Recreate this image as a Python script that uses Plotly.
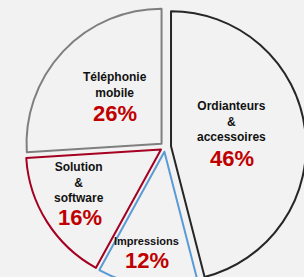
import plotly.graph_objects as go

# ---- data ----
categories = ["Ordianteurs<br>&<br>accessoires", "Impressions", "Solution<br>&<br>software", "Téléphonie<br>mobile"]
values = [46, 12, 16, 26]
pct_labels = ["46%", "12%", "16%", "26%"]

# ---- styles ----
line_colors = ["#262626", "#5b9bd5", "#a50021", "#7f7f7f"]
pulls = [0.045, 0.035, 0.035, 0.035]
label_sizes = [12, 11, 12, 12]
BG = "#f2f2f2"
W, H = 310, 292

# pie box in pixels (left, top, right, bottom)
BOX = (23.9, 5.9, 306.1, 288.1)

# label positions in pixels (centre of label block, centre of percentage)
label_px = [(231.7, 121.5), (146.7, 240.5), (79, 182), (115.3, 84.5)]
pct_px = [(231.7, 158), (146.7, 260), (79.5, 217), (115.3, 113.5)]

fig = go.Figure(go.Pie(
    labels=categories,
    values=values,
    sort=False,
    direction="clockwise",
    rotation=0,
    pull=pulls,
    textinfo="none",
    hoverinfo="label+value",
    marker=dict(colors=[BG] * 4, line=dict(color=line_colors, width=2)),
    domain=dict(x=[BOX[0] / W, BOX[2] / W], y=[1 - BOX[3] / H, 1 - BOX[1] / H]),
    showlegend=False,
))

def px2paper(x, y):
    return x / W, 1 - y / H

for cat, (lx, ly), pct, (qx, qy), fs in zip(categories, label_px, pct_labels, pct_px, label_sizes):
    ax, ay = px2paper(lx, ly)
    fig.add_annotation(x=ax, y=ay, xref="paper", yref="paper",
                       text="<b>" + cat.replace("<br>", "</b><br><b>") + "</b>",
                       showarrow=False, xanchor="center", yanchor="middle",
                       font=dict(family="Liberation Sans Narrow, Liberation Sans, Arial", size=fs, color="#111111"))
    bx, by = px2paper(qx, qy)
    fig.add_annotation(x=bx, y=by, xref="paper", yref="paper", text="<b>" + pct + "</b>",
                       showarrow=False, xanchor="center", yanchor="middle",
                       font=dict(family="Liberation Sans, Arial", size=22, color="#c00000"))

fig.update_layout(
    width=W, height=H,
    margin=dict(l=0, r=0, t=0, b=0),
    paper_bgcolor=BG, plot_bgcolor=BG,
)

fig.write_html(
    "out.html",
    config={"displayModeBar": False},
    post_script="document.body.style.margin='0';document.body.style.background='%s';document.body.style.overflow='hidden';" % BG,
)
